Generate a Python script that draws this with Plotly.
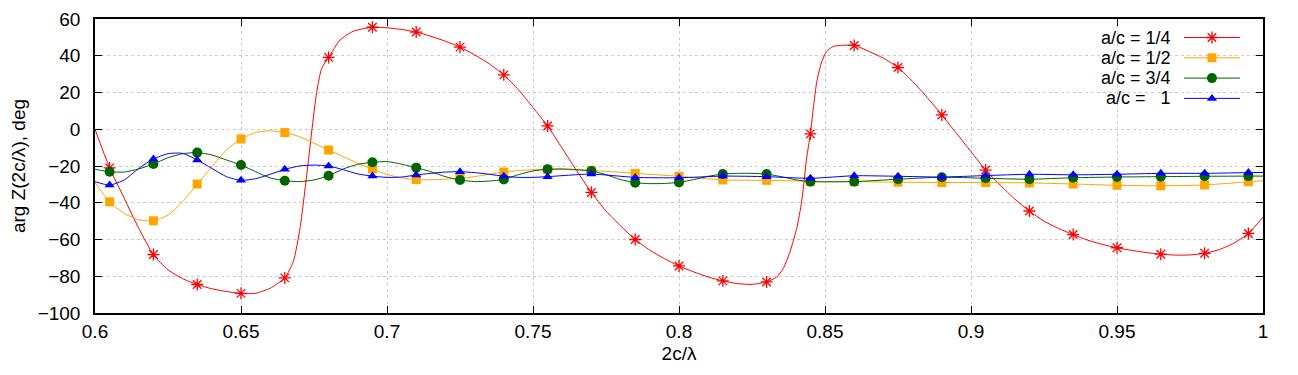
import plotly.graph_objects as go

# ---------------- data ----------------
red_x = [0.600, 0.605, 0.610, 0.615, 0.620, 0.625, 0.630, 0.635, 0.640, 0.645, 0.650, 0.655,
         0.660, 0.665, 0.6679, 0.6702, 0.6725, 0.6742, 0.6759, 0.6776, 0.680, 0.6839, 0.6884,
         0.695, 0.700, 0.705, 0.710, 0.715, 0.720, 0.725, 0.730, 0.735, 0.740, 0.745, 0.750,
         0.755, 0.760, 0.765, 0.770, 0.775, 0.780, 0.785, 0.790, 0.795, 0.800, 0.805, 0.810,
         0.815, 0.820, 0.825, 0.830, 0.8335, 0.8357, 0.838, 0.8403, 0.842, 0.8437, 0.845,
         0.846, 0.8472, 0.8489, 0.8506, 0.8529, 0.860, 0.865, 0.870, 0.875, 0.880, 0.885,
         0.890, 0.895, 0.900, 0.905, 0.910, 0.915, 0.920, 0.925, 0.930, 0.935, 0.940, 0.945,
         0.950, 0.955, 0.960, 0.965, 0.970, 0.975, 0.980, 0.985, 0.990, 0.995, 1.000]
red_y = [0.0, -21.0, -37.5, -54.0, -68.2, -76.5, -81.3, -84.5, -86.8, -88.3, -89.3, -89.3,
         -86.5, -80.9, -72.0, -54.0, -25.0, -1.5, 20.0, 33.0, 39.1, 48.5, 53.3,
         55.5, 55.2, 54.3, 52.9, 50.6, 47.9, 44.7, 40.5, 35.6, 29.6, 21.5, 11.8,
         1.8, -10.4, -22.7, -34.4, -44.5, -52.6, -60.0, -65.8, -70.4, -74.4, -77.6, -80.4,
         -82.5, -84.0, -84.4, -83.1, -80.4, -75.8, -66.7, -54.0, -39.5, -15.8, -2.5,
         11.5, 26.0, 36.9, 42.4, 45.1, 45.6, 42.4, 38.7, 33.6, 26.0, 17.3,
         7.8, -2.2, -12.2, -22.2, -30.4, -38.0, -44.5, -50.0, -54.0, -57.3, -60.4, -62.7,
         -64.5, -65.9, -67.1, -68.0, -68.5, -68.4, -67.5, -65.5, -62.0, -56.7, -47.8]

orange_x = [0.600, 0.605, 0.610, 0.615, 0.620, 0.625, 0.630, 0.635, 0.640, 0.645, 0.650,
            0.655, 0.660, 0.665, 0.670, 0.675, 0.680, 0.685, 0.690, 0.695, 0.700, 0.705,
            0.710, 0.715, 0.720, 0.725, 0.730, 0.735, 0.740, 0.745, 0.750, 0.755, 0.770,
            0.785, 0.800, 0.815, 0.830, 0.845, 0.860, 0.875, 0.890, 0.905, 0.920, 0.935,
            0.950, 0.965, 0.980, 0.995, 1.000]
orange_y = [-29.0, -39.5, -45.8, -49.3, -49.8, -46.7, -39.5, -29.8, -20.4, -11.3, -5.3,
            -1.8, -0.8, -1.8, -4.0, -7.6, -11.3, -14.9, -18.5, -21.6, -24.6, -26.5,
            -27.4, -27.5, -27.2, -26.8, -25.8, -24.5, -23.3, -22.5, -22.0, -21.8, -22.4,
            -24.0, -25.6, -27.6, -27.8, -28.3, -28.5, -28.8, -29.0, -29.0, -29.2, -29.8,
            -30.5, -30.8, -30.3, -28.6, -28.0]

green_x = [0.600, 0.605, 0.610, 0.615, 0.620, 0.625, 0.630, 0.635, 0.640, 0.645, 0.650,
           0.655, 0.660, 0.665, 0.670, 0.675, 0.680, 0.685, 0.690, 0.695, 0.700, 0.705,
           0.710, 0.715, 0.720, 0.725, 0.730, 0.735, 0.740, 0.745, 0.750, 0.755, 0.760,
           0.765, 0.770, 0.775, 0.780, 0.785, 0.790, 0.795, 0.800, 0.805, 0.810, 0.815,
           0.820, 0.825, 0.830, 0.835, 0.840, 0.845, 0.860, 0.875, 0.890, 0.905, 0.920,
           0.935, 0.950, 0.965, 0.980, 0.995, 1.000]
green_y = [-21.8, -23.1, -23.3, -21.6, -18.9, -15.5, -13.3, -12.7, -14.0, -16.7, -19.5,
           -23.1, -26.5, -28.0, -28.5, -27.6, -25.3, -21.6, -19.1, -18.0, -17.6, -19.0,
           -20.9, -23.1, -25.8, -27.6, -28.5, -28.2, -27.3, -24.7, -22.7, -21.8, -21.6,
           -22.0, -22.7, -24.7, -27.4, -29.1, -29.6, -29.5, -28.9, -27.4, -25.6, -24.4,
           -24.0, -24.0, -24.4, -25.8, -27.5, -28.5, -28.5, -27.2, -26.1, -26.7, -27.2,
           -26.4, -26.0, -25.8, -25.6, -25.5, -25.5]

blue_x = [0.600, 0.605, 0.610, 0.615, 0.620, 0.625, 0.630, 0.635, 0.640, 0.645, 0.650,
          0.655, 0.660, 0.665, 0.670, 0.675, 0.680, 0.685, 0.690, 0.695, 0.700, 0.705,
          0.710, 0.715, 0.720, 0.725, 0.730, 0.735, 0.740, 0.745, 0.750, 0.755, 0.770,
          0.785, 0.800, 0.815, 0.830, 0.845, 0.860, 0.875, 0.890, 0.905, 0.920, 0.935,
          0.950, 0.965, 0.980, 0.995, 1.000]
blue_y = [-28.5, -30.4, -27.6, -21.3, -16.2, -13.3, -13.1, -16.7, -21.3, -25.8, -27.8,
          -26.9, -24.5, -21.8, -20.0, -19.5, -20.0, -22.0, -24.3, -25.5, -26.2, -26.0,
          -24.9, -24.0, -23.3, -23.1, -23.6, -24.5, -25.6, -26.2, -26.2, -25.8, -24.4,
          -26.2, -26.4, -25.5, -25.8, -26.7, -25.3, -25.6, -26.0, -25.2, -24.5, -24.8,
          -24.5, -24.0, -24.0, -23.6, -23.5]

# positions where gnuplot draws point symbols
marker_x = [0.605, 0.620, 0.635, 0.650, 0.665, 0.680, 0.695, 0.710, 0.725, 0.740, 0.755,
            0.770, 0.785, 0.800, 0.815, 0.830, 0.845, 0.860, 0.875, 0.890, 0.905, 0.920,
            0.935, 0.950, 0.965, 0.980, 0.995]

series_names = ["a/c = 1/4", "a/c = 1/2", "a/c = 3/4", "a/c =\u00a0\u00a0\u00a01"]

x_tickvals = [0.6, 0.65, 0.7, 0.75, 0.8, 0.85, 0.9, 0.95, 1.0]
x_ticktext = ["0.6", "0.65", "0.7", "0.75", "0.8", "0.85", "0.9", "0.95", "1"]
y_tickvals = [-100, -80, -60, -40, -20, 0, 20, 40, 60]
y_ticktext = ["\u2212100", "\u221280", "\u221260", "\u221240", "\u221220", "0", "20", "40", "60"]

# ---------------- styles ----------------
series = [
    (red_x, red_y, "#ff0000", dict(symbol="asterisk-open", size=10, color="#ff0000",
                                   line=dict(width=1.3, color="#ff0000"))),
    (orange_x, orange_y, "#ffa500", dict(symbol="square", size=9, color="#ffa500", line=dict(width=0))),
    (green_x, green_y, "#006400", dict(symbol="circle", size=10, color="#006400", line=dict(width=0))),
    (blue_x, blue_y, "#0000ff", dict(symbol="triangle-up", size=9, color="#0000ff", line=dict(width=0))),
]

FONT = "Liberation Sans, Arial, sans-serif"
FS = 19
KEY_FS = 18
fig = go.Figure()

for (xs, ys, col, mk), name in zip(series, series_names):
    lookup = {round(a, 4): b for a, b in zip(xs, ys)}
    my = [lookup[round(a, 4)] for a in marker_x]
    fig.add_trace(go.Scatter(x=xs, y=ys, mode="lines",
                             line=dict(color=col, width=1, shape="spline", smoothing=0.6),
                             showlegend=False, hoverinfo="skip"))
    fig.add_trace(go.Scatter(x=marker_x, y=my, mode="markers", marker=mk, showlegend=False, name=name))

# custom gnuplot-style key (text right-aligned, sample to the right)
key_rows = [0.937, 0.868, 0.799, 0.730]
key_x0, key_xm, key_x1 = 0.9324, 0.9563, 0.9803
annotations = []
for (xs, ys, col, mk), name, ky in zip(series, series_names, key_rows):
    fig.add_trace(go.Scatter(x=[key_x0, key_x1], y=[ky, ky], mode="lines", line=dict(color=col, width=1),
                             xaxis="x2", yaxis="y2", showlegend=False, hoverinfo="skip"))
    fig.add_trace(go.Scatter(x=[key_xm], y=[ky], mode="markers", marker=mk,
                             xaxis="x2", yaxis="y2", showlegend=False, hoverinfo="skip"))
    annotations.append(dict(text=name, x=0.9227, y=ky, xref="paper", yref="paper", xanchor="right",
                            yanchor="middle", showarrow=False,
                            font=dict(family=FONT, size=KEY_FS, color="black")))

# opaque key box: hides the grid behind the key, as in the reference
shapes = [dict(type="rect", xref="paper", yref="paper", x0=0.833, x1=0.999, y0=0.680, y1=0.998,
               fillcolor="white", line=dict(width=0), layer="between")]

axis_common = dict(showline=True, linecolor="black", linewidth=1.5, mirror="allticks", ticks="inside",
                   ticklen=7, tickwidth=1, tickcolor="black", showgrid=True, gridcolor="#cccccc",
                   griddash="dot", gridwidth=1, zeroline=False, automargin=False,
                   tickfont=dict(family=FONT, size=FS, color="black"))

# the page body has an 8px margin, so the figure is 8px smaller and margins shifted
fig.update_layout(
    width=1290, height=367,
    margin=dict(l=87, r=35, t=11, b=62),
    plot_bgcolor="white", paper_bgcolor="white",
    showlegend=False,
    font=dict(family=FONT, size=FS, color="black"),
    xaxis=dict(range=[0.6, 1.0], tickvals=x_tickvals, ticktext=x_ticktext,
               title=dict(text="2c/\u03bb", font=dict(family=FONT, size=FS), standoff=6),
               ticklabelstandoff=0, **axis_common),
    yaxis=dict(range=[-100, 60], tickvals=y_tickvals, ticktext=y_ticktext,
               title=dict(text="arg Z(2c/\u03bb), deg", font=dict(family=FONT, size=FS), standoff=8),
               ticklabelstandoff=9, **axis_common),
    xaxis2=dict(overlaying="x", range=[0, 1], visible=False, anchor="y2"),
    yaxis2=dict(overlaying="y", range=[0, 1], visible=False, anchor="x2"),
    annotations=annotations,
    shapes=shapes,
)

fig.write_html("out.html")
